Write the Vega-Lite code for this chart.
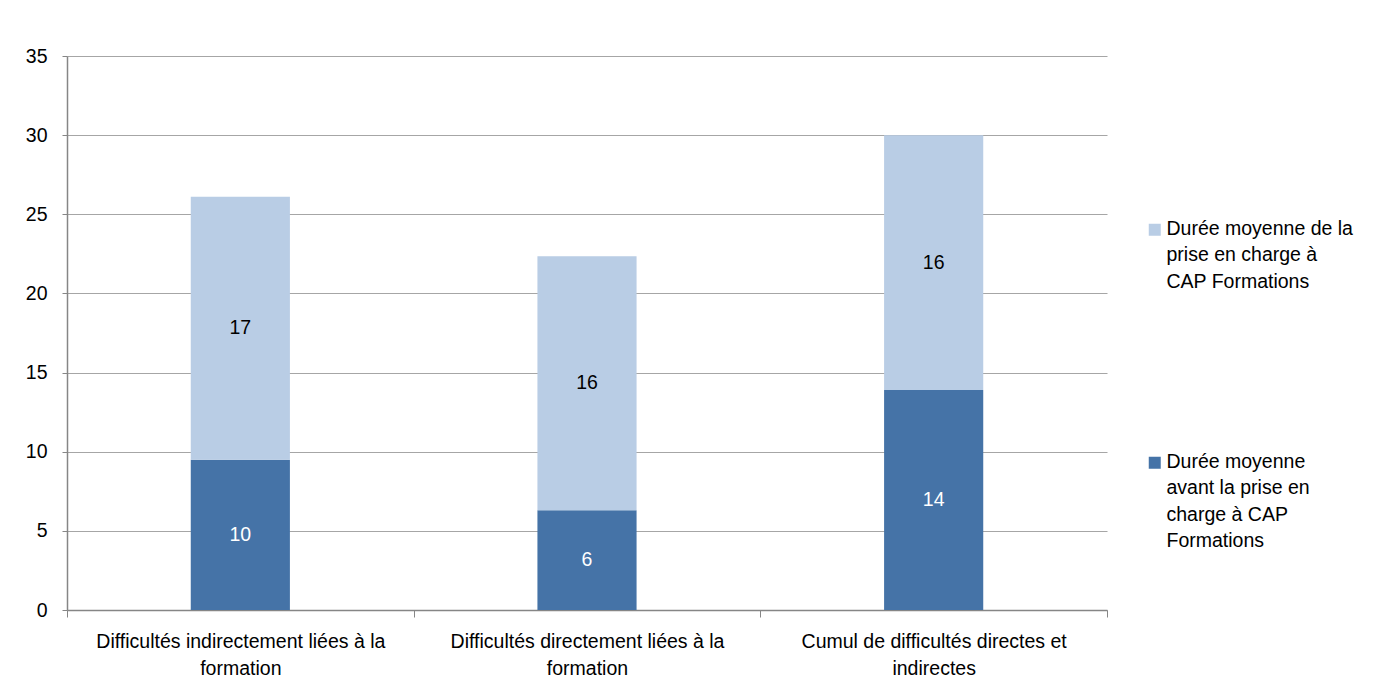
{
  "$schema": "https://vega.github.io/schema/vega-lite/v6.json",
  "width": 1040,
  "height": 554,
  "autosize": {"type": "none"},
  "padding": {"left": 67, "top": 56, "right": 293, "bottom": 87},
  "background": "white",
  "config": {
    "font": "Liberation Sans",
    "view": {"stroke": null}
  },
  "data": {
    "values": [
      {"categorie": "Difficultés indirectement liées à la formation", "serie": "Durée moyenne avant la prise en charge à CAP Formations", "valeur": 9.5},
      {"categorie": "Difficultés indirectement liées à la formation", "serie": "Durée moyenne de la prise en charge à CAP Formations", "valeur": 16.6},
      {"categorie": "Difficultés directement liées à la formation", "serie": "Durée moyenne avant la prise en charge à CAP Formations", "valeur": 6.3},
      {"categorie": "Difficultés directement liées à la formation", "serie": "Durée moyenne de la prise en charge à CAP Formations", "valeur": 16.05},
      {"categorie": "Cumul de difficultés directes et indirectes", "serie": "Durée moyenne avant la prise en charge à CAP Formations", "valeur": 13.9},
      {"categorie": "Cumul de difficultés directes et indirectes", "serie": "Durée moyenne de la prise en charge à CAP Formations", "valeur": 16.1}
    ]
  },
  "transform": [
    {"stack": "valeur", "groupby": ["categorie"], "sort": [{"field": "serie", "order": "ascending"}], "as": ["bas", "haut"]},
    {"calculate": "(datum.bas + datum.haut) / 2", "as": "milieu"}
  ],
  "encoding": {
    "x": {
      "field": "categorie",
      "type": "nominal",
      "sort": null,
      "scale": {"paddingInner": 0, "paddingOuter": 0},
      "axis": {
        "title": null,
        "labelAngle": 0,
        "labelFontSize": 19.5,
        "labelColor": "#000000",
        "labelLineHeight": 27,
        "labelPadding": 15,
        "labelLimit": 400,
        "labelExpr": "[slice(datum.label, 0, lastindexof(datum.label, ' ')), slice(datum.label, lastindexof(datum.label, ' ') + 1)]",
        "tickBand": "extent",
        "ticks": true,
        "tickSize": 7,
        "tickColor": "#868686",
        "domainColor": "#868686",
        "domainWidth": 1.5,
        "grid": false
      }
    }
  },
  "layer": [
    {
      "mark": {"type": "bar", "width": {"band": 0.286}},
      "encoding": {
        "y": {
          "field": "bas",
          "type": "quantitative",
          "scale": {"domain": [0, 35], "nice": false},
          "axis": {
            "title": null,
            "values": [0, 5, 10, 15, 20, 25, 30, 35],
            "labelFontSize": 19.5,
            "labelColor": "#000000",
            "labelPadding": 15,
            "tickSize": 5,
            "tickColor": "#868686",
            "domainColor": "#868686",
            "domainWidth": 1.5,
            "grid": true,
            "gridColor": "#a6a6a6",
            "gridWidth": 1.2
          }
        },
        "y2": {"field": "haut"},
        "color": {
          "field": "serie",
          "type": "nominal",
          "scale": {
            "domain": ["Durée moyenne de la prise en charge à CAP Formations", "Durée moyenne avant la prise en charge à CAP Formations"],
            "range": ["#b9cde5", "#4573a7"]
          },
          "legend": {
            "title": null,
            "orient": "none",
            "legendX": 1078,
            "legendY": 164,
            "padding": 0,
            "symbolType": "square",
            "symbolSize": 144,
            "symbolStrokeWidth": 0,
            "symbolOpacity": 1,
            "labelFontSize": 19.5,
            "labelColor": "#000000",
            "labelOffset": 2,
            "labelLimit": 300,
            "labelBaseline": "top",
            "rowPadding": 159,
            "labelExpr": "datum.label == 'Durée moyenne de la prise en charge à CAP Formations' ? ['Durée moyenne de la', 'prise en charge à', 'CAP Formations'] : ['Durée moyenne', 'avant la prise en', 'charge à CAP', 'Formations']",
            "encoding": {"labels": {"lineHeight": {"value": 26.5}, "dy": {"value": -10}}}
          }
        }
      }
    },
    {
      "mark": {"type": "text", "fontSize": 19.5, "baseline": "middle", "align": "center"},
      "encoding": {
        "y": {"field": "milieu", "type": "quantitative"},
        "text": {"field": "valeur", "type": "quantitative", "format": ".0f"},
        "color": {
          "condition": {"test": "datum.serie == 'Durée moyenne avant la prise en charge à CAP Formations'", "value": "#ffffff"},
          "value": "#000000"
        }
      }
    }
  ]
}
